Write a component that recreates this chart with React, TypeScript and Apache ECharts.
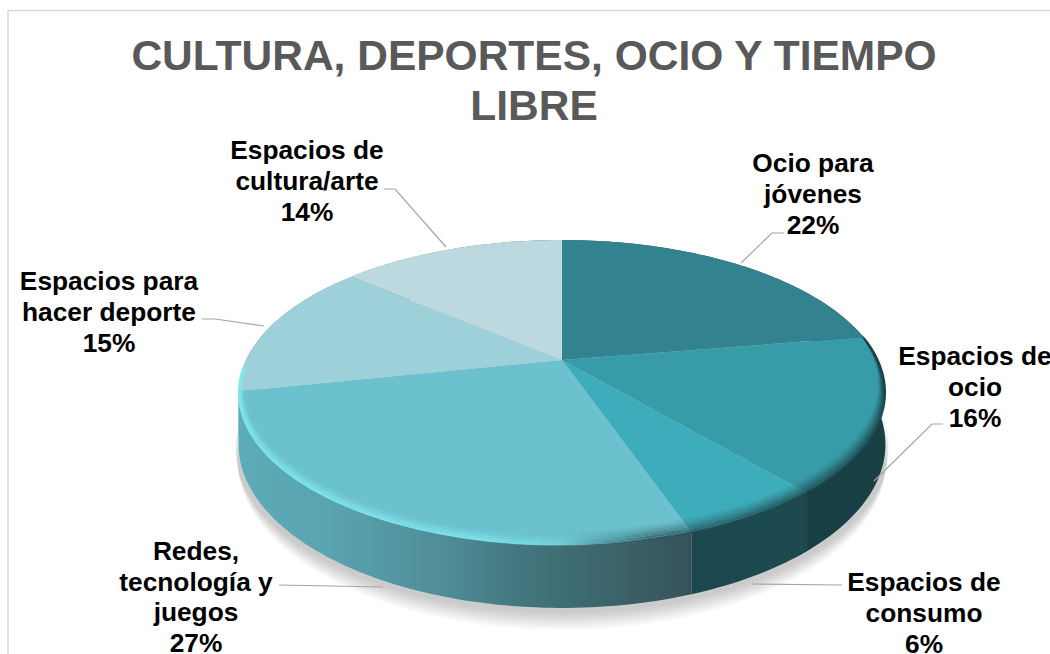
import React, { useEffect, useRef } from "react";
import * as echarts from "echarts";

const titleText = "CULTURA, DEPORTES, OCIO Y TIEMPO\nLIBRE";
const categories = [
  "Ocio para\njóvenes",
  "Espacios de\nocio",
  "Espacios de\nconsumo",
  "Redes,\ntecnología y\njuegos",
  "Espacios para\nhacer deporte",
  "Espacios de\ncultura/arte",
];
// Slice sizes; the labels show them rounded.
const values = [22.4, 16.4, 5.9, 27, 14.6, 13.7];
const topColors = ["#32838f", "#379ba8", "#3eadbb", "#6bc1cd", "#9dd0d8", "#bcd9df"];

// Layout of the labels (centre x, centre y) and their leader lines, in page pixels.
const labelCentres = [
  [813, 194],
  [975, 387],
  [924, 613],
  [196, 597],
  [109, 312],
  [307, 181],
];
const leaderLines = [
  [[784, 233], [772, 233], [741, 263]],
  [[943, 424], [932, 424], [874, 481]],
  [[842, 585], [752, 584]],
  [[279, 585], [383, 587]],
  [[202, 319], [215, 319], [264, 326]],
  [[384, 189], [395, 189], [446, 247]],
];

// Perspective projection of the pie's disc
const X0 = 562, Y0 = 360, RX = 316, RY = 145.6, KV = 0.213, DEPTH = 49.5;
const total = values.reduce((a, b) => a + b, 0);
const cumulative = values.reduce((acc: number[], v) => [...acc, acc[acc.length - 1] + v], [0]);

function project(theta: number, r = 1, drop = 0) {
  const u = r * Math.sin(theta), v = -r * Math.cos(theta);
  const w = 1 - KV * v;
  return [X0 + (RX * u) / w, Y0 + (RY * v) / w + drop / w];
}
function sliceAngles(i: number) {
  return [(cumulative[i] / total) * Math.PI * 2, (cumulative[i + 1] / total) * Math.PI * 2];
}
function arc(a0: number, a1: number, r = 1, drop = 0) {
  const n = Math.max(2, Math.ceil((a1 - a0) / 0.02));
  const pts: number[][] = [];
  for (let k = 0; k <= n; k++) pts.push(project(a0 + ((a1 - a0) * k) / n, r, drop));
  return pts;
}
function hGrad(stops: [number, string][]) {
  const x0 = 238, x1 = 886;
  return {
    type: "linear", x: x0, y: 0, x2: x1, y2: 0, global: true,
    colorStops: stops.map(([x, color]) => ({ offset: (x - x0) / (x1 - x0), color })),
  };
}
const rad = (d: number) => (d * Math.PI) / 180;

const sideFill = hGrad([
  [238, "#5cacb9"],
  [330, "#5aa3af"],
  [450, "#4e8b95"],
  [530, "#42747c"],
  [620, "#3b6268"],
  [690, "#355359"],
  [693, "#1b484e"],
  [804, "#1c4a50"],
  [806, "#173f44"],
  [886, "#173f44"],
]);
const brightRim = hGrad([
  [238, "rgba(128,232,242,0.95)"],
  [480, "rgba(128,232,242,0.95)"],
  [540, "rgba(128,232,242,0.6)"],
  [610, "rgba(128,232,242,0)"],
  [886, "rgba(128,232,242,0)"],
]);
const darkRim = hGrad([
  [238, "rgba(40,85,92,0)"],
  [560, "rgba(40,85,92,0)"],
  [650, "rgba(35,75,82,0.9)"],
  [886, "rgba(23,63,68,0.95)"],
]);

// Bevel bands along the rim: angular range in degrees, colour and fading layers.
const bevels = [
  { from: 150, to: 266, stroke: brightRim, layers: [0.9, 0.75, 0.55, 0.3, 0.12] },
  { from: 82, to: 185, stroke: darkRim, layers: [0.9, 0.75, 0.6, 0.45, 0.3, 0.18, 0.08] },
];
const shadowLayers = [1, 2, 3, 4, 5, 6, 7, 8, 9];

export default function App() {
  const ref = useRef<HTMLDivElement>(null);
  useEffect(() => {
    const chart = echarts.init(ref.current!, undefined, { renderer: "svg" });
    const seriesData = categories.map((name, i) => ({ name, value: values[i] }));
    const graphicEls: any[] = [
      {
        type: "polyline",
        silent: true,
        shape: { points: [[8, 654], [8, 10.5], [1050, 10.5]] },
        style: { stroke: "#d9d9d9", lineWidth: 1.5, fill: "none" },
      },
    ];
    leaderLines.forEach((pts) =>
      graphicEls.push({
        type: "polyline",
        silent: true,
        z: 20,
        shape: { points: pts },
        style: { stroke: "#a6a6a6", lineWidth: 1.2, fill: "none" },
      })
    );
    categories.forEach((name, i) =>
      graphicEls.push({
        type: "text",
        silent: true,
        z: 21,
        x: labelCentres[i][0],
        y: labelCentres[i][1],
        style: {
          text: `${name}\n${Math.round(values[i])}%`,
          font: 'bold 26.3px "Liberation Sans", Arial, sans-serif',
          lineHeight: 30.7,
          fill: "#000000",
          align: "center",
          verticalAlign: "middle",
        },
      })
    );

    chart.setOption({
      animation: false,
      backgroundColor: "#ffffff",
      title: {
        text: titleText,
        left: 529,
        top: 25,
        textAlign: "center",
        textStyle: {
          fontFamily: '"Liberation Sans", Arial, sans-serif',
          fontWeight: "bold",
          fontSize: 42.5,
          lineHeight: 50,
          color: "#595959",
        },
      },
      graphic: graphicEls,
      series: [
        {
          // soft shadow below the disc, built from fading layers
          type: "custom",
          coordinateSystem: "none",
          silent: true,
          z: 1,
          data: seriesData,
          renderItem: (params: any) => {
            const [a0, a1] = sliceAngles(params.dataIndex);
            return {
              type: "group",
              children: shadowLayers.map((k) => ({
                type: "polygon",
                shape: {
                  points: [
                    project(a0, 0, DEPTH + 1.9 * k),
                    ...arc(a0, a1, 1.012 - 0.0012 * k, DEPTH + 1.9 * k),
                  ],
                },
                style: { fill: "rgba(0,0,0,0.022)" },
              })),
            };
          },
        },
        {
          // outer wall
          type: "custom",
          coordinateSystem: "none",
          silent: true,
          z: 2,
          data: seriesData,
          renderItem: (params: any) => {
            const [a0, a1] = sliceAngles(params.dataIndex);
            const top = arc(a0, a1);
            const bottom = arc(a0, a1, 1, DEPTH).reverse();
            return {
              type: "polygon",
              shape: { points: [...top, ...bottom] },
              style: { fill: sideFill },
            };
          },
        },
        {
          // top face
          type: "custom",
          coordinateSystem: "none",
          silent: true,
          z: 3,
          data: seriesData,
          renderItem: (params: any) => {
            const i = params.dataIndex;
            const [a0, a1] = sliceAngles(i);
            return {
              type: "polygon",
              shape: { points: [project(a0, 0), ...arc(a0, a1)] },
              style: { fill: topColors[i] },
            };
          },
        },
        {
          // bevel along the rim
          type: "custom",
          coordinateSystem: "none",
          silent: true,
          z: 4,
          data: seriesData,
          renderItem: (params: any) => {
            const [a0, a1] = sliceAngles(params.dataIndex);
            const children: any[] = [];
            bevels.forEach((b) => {
              const s = Math.max(a0, rad(b.from));
              const e = Math.min(a1, rad(b.to));
              if (e <= s) return;
              b.layers.forEach((o, k) =>
                children.push({
                  type: "polyline",
                  shape: { points: arc(s, e, 0.999 - 0.003 * k, -1.2 * k) },
                  style: { stroke: b.stroke, lineWidth: 2, fill: "none", opacity: o },
                })
              );
            });
            return { type: "group", children };
          },
        },
      ],
    });
    return () => chart.dispose();
  }, []);
  return (
    <div
      ref={ref}
      style={{ position: "fixed", left: 0, top: 0, width: 1050, height: 654, overflow: "hidden" }}
    />
  );
}
